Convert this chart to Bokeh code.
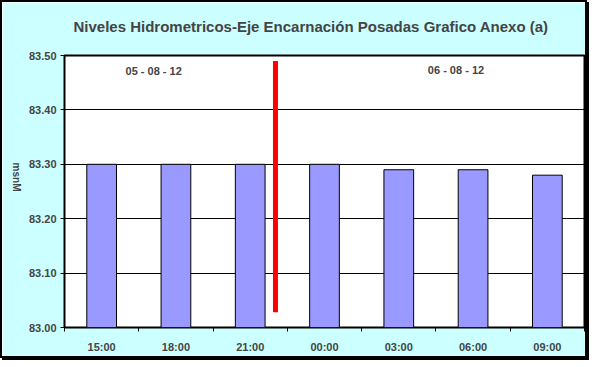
import math
from bokeh.plotting import figure
from bokeh.models import FixedTicker, Label, Range1d, NumeralTickFormatter
from bokeh.embed import file_html
from bokeh.resources import INLINE

# ---- data ----
hours = ["15:00", "18:00", "21:00", "00:00", "03:00", "06:00", "09:00"]
levels = [83.30, 83.30, 83.30, 83.30, 83.29, 83.29, 83.28]
base_level = 83.00
y_ticks = [83.00, 83.10, 83.20, 83.30, 83.40, 83.50]
date_labels = ["05 - 08 - 12", "06 - 08 - 12"]
date_label_x = [1.2, 5.27]
date_label_y = [83.472, 83.474]
separator_x = 2.84
separator_y = [83.028, 83.49]
y_title = "msnM"
chart_title = "Niveles Hidrometricos-Eje Encarnación Posadas Grafico Anexo (a)"

FONT = "Liberation Sans"
BG = "#CCFFFF"

xs = [i + 0.5 for i in range(len(hours))]

p = figure(width=587, height=358, output_backend="svg", toolbar_location=None,
           x_range=Range1d(0, len(hours)), y_range=Range1d(83.0, 83.5),
           min_border_left=61, min_border_right=5, min_border_top=53, min_border_bottom=33)
p.styles = {"border": "2px solid black", "box-shadow": "2px 2px 0 0 black"}

p.background_fill_color = "white"
p.border_fill_color = BG
p.outline_line_color = "black"
p.outline_line_width = 2

p.title.text = chart_title + "\n"
p.title.align = "left"
p.title.text_font = FONT
p.title.text_font_size = "15px"
p.title.text_font_style = "bold"
p.title.offset = 9
p.title.standoff = 8

p.vbar(x=xs, top=levels, bottom=base_level, width=0.4,
       fill_color="#9999FF", line_color="black", line_width=1)

p.line(x=[separator_x, separator_x], y=separator_y, line_color="red", line_width=5)

for t, x, y in zip(date_labels, date_label_x, date_label_y):
    p.add_layout(Label(x=x, y=y, text=t, text_align="center", text_baseline="middle",
                       text_font=FONT, text_font_size="11px", text_font_style="bold"))

# x axis: labels at centres, ticks at boundaries
xt = FixedTicker(ticks=xs, minor_ticks=list(range(len(hours) + 1)))
p.xaxis.ticker = xt
p.xaxis.major_label_overrides = {x: h for x, h in zip(xs, hours)}
p.xaxis.major_tick_line_color = None
p.xaxis.minor_tick_line_color = "black"
p.xaxis.minor_tick_out = 4
p.xaxis.minor_tick_in = 0
p.xaxis.axis_line_color = None
p.xaxis.major_label_text_font = FONT
p.xaxis.major_label_text_font_size = "11px"
p.xaxis.major_label_text_font_style = "bold"
p.xaxis.major_label_standoff = 7

p.yaxis.ticker = FixedTicker(ticks=y_ticks, minor_ticks=[])
p.yaxis.formatter = NumeralTickFormatter(format="0.00")
p.yaxis.axis_line_color = None
p.yaxis.major_tick_in = 0
p.yaxis.major_tick_out = 4
p.yaxis.major_label_text_font = FONT
p.yaxis.major_label_text_font_size = "11px"
p.yaxis.major_label_text_font_style = "bold"
p.yaxis.major_label_standoff = 4
p.yaxis.axis_label = y_title
p.yaxis.axis_label_text_font = FONT
p.yaxis.axis_label_text_font_size = "10px"
p.yaxis.axis_label_text_font_style = "bold"
p.yaxis.axis_label_standoff = 9
try:
    p.yaxis.axis_label_orientation = -math.pi / 2
except Exception:
    pass

p.xgrid.grid_line_color = None
p.ygrid.ticker = FixedTicker(ticks=y_ticks)
p.ygrid.grid_line_color = "black"
p.ygrid.grid_line_width = 1

open("out.html", "w").write(file_html(p, INLINE))
